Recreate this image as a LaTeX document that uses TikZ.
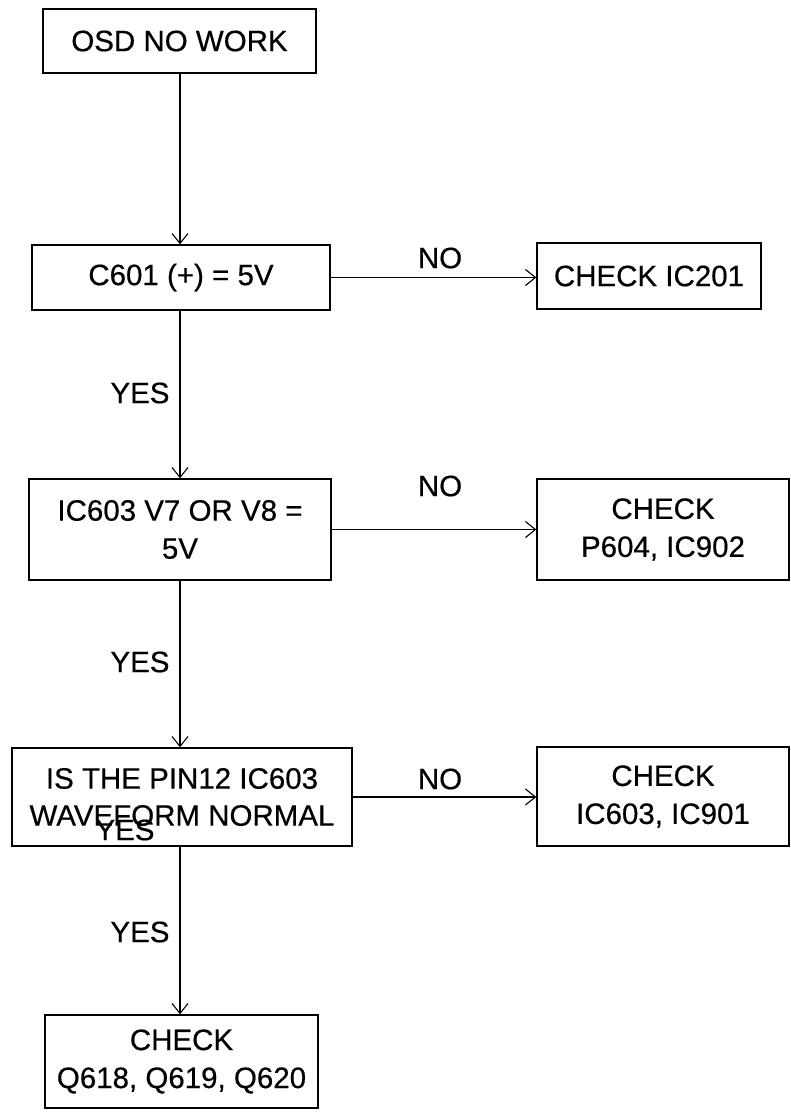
\documentclass[tikz,border=0pt]{standalone}
\usepackage{fontspec}
\setmainfont{Liberation Sans}[FakeBold=0.5]
\usetikzlibrary{arrows.meta}
\begin{document}
\begin{tikzpicture}[x=1pt,y=-1pt,
  box/.style={draw, line width=1.3pt, inner sep=0pt, align=center, font=\fontsize{29.5}{38}\selectfont},
  lbl/.style={font=\fontsize{29.5}{34}\selectfont, inner sep=0pt},
  conn/.style={line width=1.2pt, -{Straight Barb[length=10pt,width=16pt,line width=1.1pt]}}]
\useasboundingbox (0,0) rectangle (790,1113);
\node[box, minimum width=273pt, minimum height=64pt] (b1) at (179.5,41) {OSD NO WORK};
\node[box, minimum width=298pt, minimum height=65pt] (b2) at (181,277.5) {C601 (+) = 5V};
\node[box, minimum width=224pt, minimum height=66pt] (r1) at (649,276) {CHECK IC201};
\node[box, minimum width=302pt, minimum height=101pt] (b3) at (180,529.5) {IC603 V7 OR V8 =\\5V};
\node[box, minimum width=252pt, minimum height=101pt] (r2) at (663,529.5) {CHECK\\P604, IC902};
\node[box, minimum width=340pt, minimum height=98pt, font=\fontsize{29.5}{37}\selectfont] (b4) at (182,797) {IS THE PIN12 IC603\\WAVEFORM NORMAL};
\node[box, minimum width=252pt, minimum height=99pt] (r3) at (663,796.5) {CHECK\\IC603, IC901};
\node[box, minimum width=273pt, minimum height=93pt] (b5) at (181.5,1061.5) {CHECK\\Q618, Q619, Q620};
\node[lbl] (n1) at (440,258) {NO};
\node[lbl] (n2) at (440,486) {NO};
\node[lbl] (n3) at (440,779) {NO};
\node[lbl] (y1) at (140,393) {YES};
\node[lbl] (y2) at (140,662) {YES};
\node[lbl] (y4) at (125,830) {YES};
\node[lbl] (y3) at (140,932) {YES};
\draw[conn] (b1.south -| 180,0) -- (b2.north -| 180,0);
\draw[conn] (b2.south -| 180,0) -- (b3.north -| 180,0);
\draw[conn] (b3.south -| 180,0) -- (b4.north -| 180,0);
\draw[conn] (b4.south -| 180,0) -- (b5.north -| 180,0);
\draw[conn] (b2.east) -- (b2.east -| r1.west);
\draw[conn] (b3.east) -- (b3.east -| r2.west);
\draw[conn] (b4.east) -- (b4.east -| r3.west);
\end{tikzpicture}
\end{document}
